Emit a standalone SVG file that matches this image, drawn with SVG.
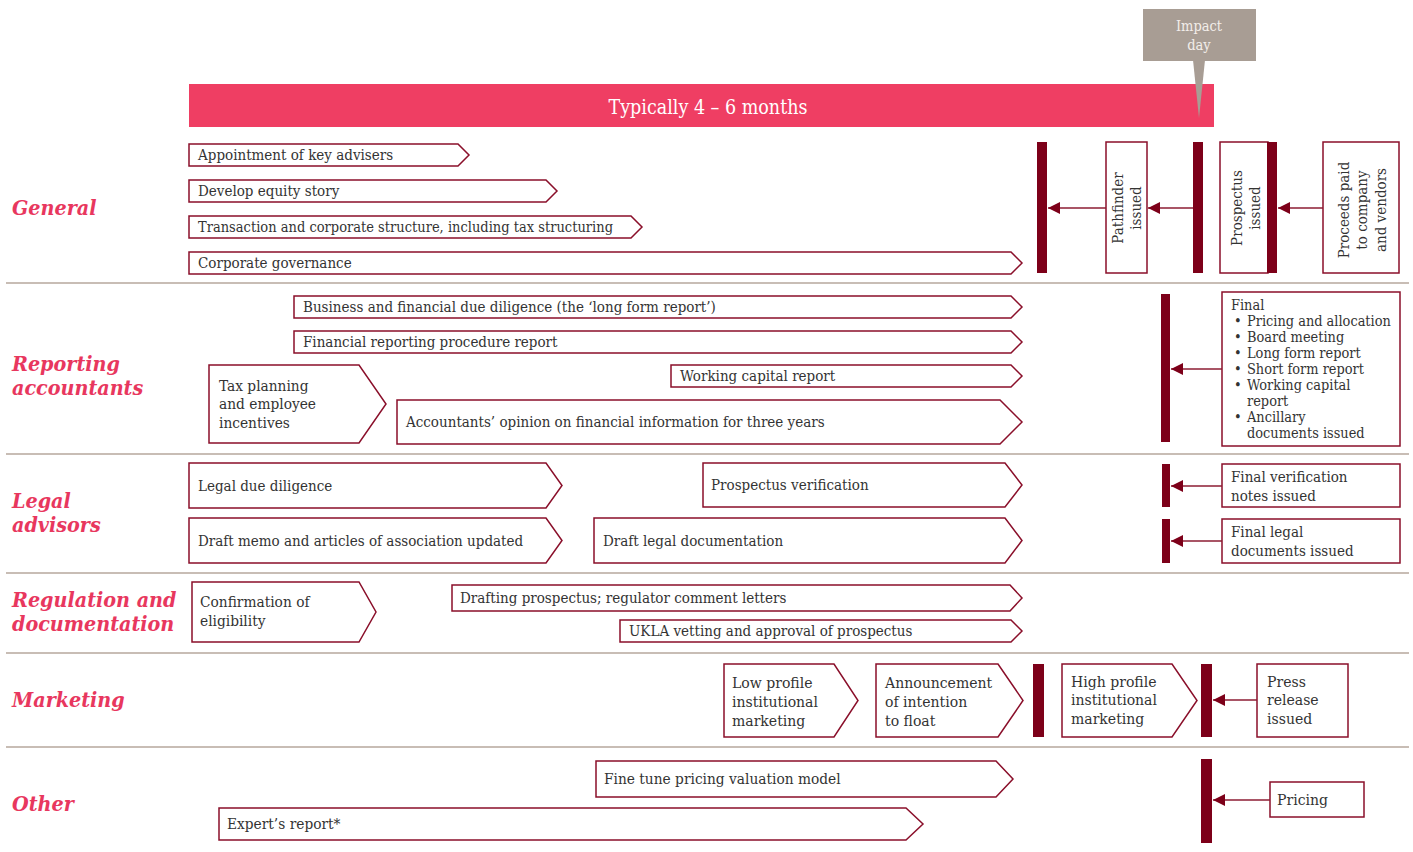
<svg xmlns="http://www.w3.org/2000/svg" width="1413" height="852" viewBox="0 0 1413 852">
<style>
.bg{fill:#ffffff}
.chev{fill:#ffffff;stroke:#8a0f2a;stroke-width:1.5}
.box{fill:#ffffff;stroke:#8a0f2a;stroke-width:1.5}
.bar{fill:#7d0019}
.sep{stroke:#c8bdb5;stroke-width:2}
.t{font-family:"DejaVu Serif Condensed","DejaVu Serif","Liberation Serif",serif;font-stretch:condensed;font-size:15px;fill:#333333}
.tl{font-size:15.3px}
.tm{font-size:15.6px}
.ts{font-size:14.4px}
.cat{font-family:"DejaVu Serif Condensed","DejaVu Serif","Liberation Serif",serif;font-stretch:condensed;font-size:21.3px;font-weight:bold;font-style:italic;fill:#e8375e}
.conn{stroke:#8c1c33;stroke-width:1.5;fill:none;marker-end:url(#ah)}
.head{font-family:"DejaVu Serif Condensed","DejaVu Serif","Liberation Serif",serif;font-stretch:condensed;font-size:19.5px;fill:#ffffff}
.imp{font-family:"DejaVu Serif Condensed","DejaVu Serif","Liberation Serif",serif;font-stretch:condensed;font-size:14.5px;fill:#f3eeea}
</style>
<defs>
<marker id="ah" viewBox="0 0 10 10" refX="10" refY="5" markerWidth="12" markerHeight="12" markerUnits="userSpaceOnUse" orient="auto">
<path d="M0,0 L10,5 L0,10 z" fill="#7d0019"/>
</marker>
</defs>
<rect class="bg" x="0" y="0" width="1413" height="852"/>

<g id="timeline">
<rect x="189" y="84" width="1025" height="43" fill="#ef3e63"/>
<text class="head" x="708" y="114" text-anchor="middle">Typically 4 – 6 months</text>
</g>
<g id="impact-day">
<rect x="1143" y="9" width="113" height="52" fill="#a89d94"/>
<path d="M1193,60 L1205,60 L1199,118 Z" fill="#a89d94"/>
<text class="imp" x="1199" y="31" text-anchor="middle">Impact</text>
<text class="imp" x="1199" y="50" text-anchor="middle">day</text>
</g>

<g id="separators">
<line class="sep" x1="6" y1="283" x2="1409" y2="283"/>
<line class="sep" x1="6" y1="454" x2="1409" y2="454"/>
<line class="sep" x1="6" y1="573" x2="1409" y2="573"/>
<line class="sep" x1="6" y1="653" x2="1409" y2="653"/>
<line class="sep" x1="6" y1="747" x2="1409" y2="747"/>
</g>

<g id="categories">
<text class="cat" x="12" y="215">General</text>
<text class="cat" x="12" y="371">Reporting</text>
<text class="cat" x="12" y="395">accountants</text>
<text class="cat" x="12" y="508">Legal</text>
<text class="cat" x="12" y="532">advisors</text>
<text class="cat" x="12" y="607">Regulation and</text>
<text class="cat" x="12" y="631">documentation</text>
<text class="cat" x="12" y="707">Marketing</text>
<text class="cat" x="12" y="811">Other</text>
</g>

<g id="gen-1"><path class="chev" d="M189,144 H458 L469,155 L458,166 H189 Z"/><text class="t" x="198" y="160">Appointment of key advisers</text></g>
<g id="gen-2"><path class="chev" d="M189,180 H546 L557,191 L546,202 H189 Z"/><text class="t" x="198" y="196">Develop equity story</text></g>
<g id="gen-3"><path class="chev" d="M189,216 H631 L642,227 L631,238 H189 Z"/><text class="t" x="198" y="232" textLength="415" lengthAdjust="spacingAndGlyphs">Transaction and corporate structure, including tax structuring</text></g>
<g id="gen-4"><path class="chev" d="M189,252 H1011 L1022,263 L1011,274 H189 Z"/><text class="t" x="198" y="268">Corporate governance</text></g>

<g id="ra-1"><path class="chev" d="M294,296 H1011 L1022,307 L1011,318 H294 Z"/><text class="t" x="303" y="312">Business and financial due diligence (the ‘long form report’)</text></g>
<g id="ra-2"><path class="chev" d="M294,331 H1011 L1022,342 L1011,353 H294 Z"/><text class="t" x="303" y="347">Financial reporting procedure report</text></g>
<g id="ra-tax"><path class="chev" d="M209,365 H359 L386,404 L359,443 H209 Z"/><text class="t tl" x="219" y="391">Tax planning</text><text class="t tl" x="219" y="409">and employee</text><text class="t tl" x="219" y="428">incentives</text></g>
<g id="ra-wc"><path class="chev" d="M671,365 H1011 L1022,376 L1011,387 H671 Z"/><text class="t" x="680" y="381">Working capital  report</text></g>
<g id="ra-acc"><path class="chev" d="M397,400 H1000 L1022,422 L1000,444 H397 Z"/><text class="t" x="406" y="427">Accountants’ opinion on financial information for three years</text></g>

<g id="la-1"><path class="chev" d="M189,463 H546 L562,485.5 L546,508 H189 Z"/><text class="t" x="198" y="491">Legal due diligence</text></g>
<g id="la-2"><path class="chev" d="M189,518 H546 L562,540.5 L546,563 H189 Z"/><text class="t" x="198" y="546">Draft memo and articles of association updated</text></g>
<g id="la-pv"><path class="chev" d="M703,463 H1005 L1022,485 L1005,507 H703 Z"/><text class="t" x="711" y="490">Prospectus verification</text></g>
<g id="la-dl"><path class="chev" d="M594,518 H1005 L1022,540.5 L1005,563 H594 Z"/><text class="t" x="603" y="546">Draft legal documentation</text></g>

<g id="rd-conf"><path class="chev" d="M192,582 H359 L376,612 L359,642 H192 Z"/><text class="t tl" x="200" y="607">Confirmation of</text><text class="t tl" x="200" y="626">eligibility</text></g>
<g id="rd-draft"><path class="chev" d="M452,585 H1010 L1022,598 L1010,611 H452 Z"/><text class="t" x="460" y="603">Drafting prospectus; regulator comment letters</text></g>
<g id="rd-ukla"><path class="chev" d="M620,620 H1011 L1022,631 L1011,642 H620 Z"/><text class="t" x="629" y="636">UKLA vetting and approval of prospectus</text></g>

<g id="mk-low"><path class="chev" d="M724,664 H834 L858,700.5 L834,737 H724 Z"/><text class="t tm" x="732" y="688">Low profile</text><text class="t tm" x="732" y="707">institutional</text><text class="t tm" x="732" y="726">marketing</text></g>
<g id="mk-ann"><path class="chev" d="M876,664 H998 L1023,700.5 L998,737 H876 Z"/><text class="t tm" x="885" y="688">Announcement</text><text class="t tm" x="885" y="707">of intention</text><text class="t tm" x="885" y="726">to float</text></g>
<g id="mk-high"><path class="chev" d="M1062,664 H1172 L1197,700.5 L1172,737 H1062 Z"/><text class="t tm" x="1071" y="687">High profile</text><text class="t tm" x="1071" y="705">institutional</text><text class="t tm" x="1071" y="724">marketing</text></g>

<g id="ot-fine"><path class="chev" d="M596,761 H996 L1013,779 L996,797 H596 Z"/><text class="t tl" x="604" y="784">Fine tune pricing valuation model</text></g>
<g id="ot-exp"><path class="chev" d="M219,808 H906 L923,824 L906,840 H219 Z"/><text class="t tl" x="227" y="829">Expert’s  report*</text></g>

<g id="bars">
<rect class="bar" x="1037" y="142" width="10" height="131"/>
<rect class="bar" x="1193" y="142" width="10" height="131"/>
<rect class="bar" x="1161" y="294" width="9" height="148"/>
<rect class="bar" x="1162" y="464" width="8" height="43"/>
<rect class="bar" x="1162" y="519" width="8" height="44"/>
<rect class="bar" x="1033" y="664" width="11" height="73"/>
<rect class="bar" x="1201" y="664" width="11" height="73"/>
<rect class="bar" x="1201" y="759" width="11" height="84"/>
</g>

<g id="pathfinder"><rect class="box" x="1106" y="142" width="41" height="131"/>
<text class="t" transform="translate(1126,208) rotate(-90)" text-anchor="middle" font-size="15.8"><tspan x="0" y="-3">Pathfinder</tspan><tspan x="0" y="15">issued</tspan></text></g>
<g id="prospectus"><rect class="box" x="1220" y="142" width="48" height="131"/>
<text class="t" transform="translate(1244,208) rotate(-90)" text-anchor="middle" font-size="15.8"><tspan x="0" y="-2">Prospectus</tspan><tspan x="0" y="16">issued</tspan></text></g>
<rect class="bar" x="1267" y="142" width="10" height="131"/>
<g id="proceeds"><rect class="box" x="1323" y="142" width="76" height="131"/>
<text class="t" transform="translate(1361,210) rotate(-90)" text-anchor="middle" font-size="15.8"><tspan x="0" y="-12">Proceeds paid</tspan><tspan x="0" y="6">to company</tspan><tspan x="0" y="25">and vendors</tspan></text></g>

<g id="final"><rect class="box" x="1222" y="292" width="178" height="154"/>
<text class="t ts" x="1231" y="310">Final</text>
<text class="t ts" x="1234" y="326">•</text><text class="t ts" x="1247" y="326">Pricing and allocation</text>
<text class="t ts" x="1234" y="342">•</text><text class="t ts" x="1247" y="342">Board meeting</text>
<text class="t ts" x="1234" y="358">•</text><text class="t ts" x="1247" y="358">Long form report</text>
<text class="t ts" x="1234" y="374">•</text><text class="t ts" x="1247" y="374">Short form report</text>
<text class="t ts" x="1234" y="390">•</text><text class="t ts" x="1247" y="390">Working capital</text>
<text class="t ts" x="1247" y="406">report</text>
<text class="t ts" x="1234" y="422">•</text><text class="t ts" x="1247" y="422">Ancillary</text>
<text class="t ts" x="1247" y="438">documents issued</text></g>

<g id="final-verif"><rect class="box" x="1222" y="464" width="178" height="43"/><text class="t" x="1231" y="482">Final verification</text><text class="t" x="1231" y="501">notes issued</text></g>
<g id="final-legal"><rect class="box" x="1222" y="519" width="178" height="44"/><text class="t" x="1231" y="537">Final legal</text><text class="t" x="1231" y="556">documents issued</text></g>
<g id="press"><rect class="box" x="1257" y="664" width="91" height="73"/><text class="t tm" x="1267" y="687">Press</text><text class="t tm" x="1267" y="705">release</text><text class="t tm" x="1267" y="724">issued</text></g>
<g id="pricing"><rect class="box" x="1270" y="782" width="94" height="35"/><text class="t tm" x="1277" y="805">Pricing</text></g>

<g id="connectors">
<line class="conn" x1="1106" y1="208" x2="1048" y2="208"/>
<line class="conn" x1="1193" y1="208" x2="1148" y2="208"/>
<line class="conn" x1="1323" y1="208" x2="1278" y2="208"/>
<line class="conn" x1="1222" y1="369" x2="1171" y2="369"/>
<line class="conn" x1="1222" y1="486" x2="1171" y2="486"/>
<line class="conn" x1="1222" y1="541" x2="1171" y2="541"/>
<line class="conn" x1="1257" y1="700" x2="1213" y2="700"/>
<line class="conn" x1="1270" y1="800" x2="1213" y2="800"/>
</g>
</svg>
